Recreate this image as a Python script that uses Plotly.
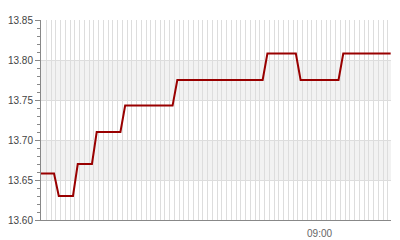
import plotly.graph_objects as go
import pandas as pd

# Data: one price per minute, 08:01 .. 09:15
times = pd.date_range("2024-01-01 08:01", periods=75, freq="min")
prices = [
    13.658, 13.658, 13.658, 13.658,                          # 08:01-08:04
    13.630, 13.630, 13.630, 13.630,                          # 08:05-08:08
    13.670, 13.670, 13.670, 13.670,                          # 08:09-08:12
    13.710, 13.710, 13.710, 13.710, 13.710, 13.710,          # 08:13-08:18
    13.743, 13.743, 13.743, 13.743, 13.743, 13.743,
    13.743, 13.743, 13.743, 13.743, 13.743,                  # 08:19-08:29
    13.775, 13.775, 13.775, 13.775, 13.775, 13.775, 13.775,
    13.775, 13.775, 13.775, 13.775, 13.775, 13.775, 13.775,
    13.775, 13.775, 13.775, 13.775, 13.775,                  # 08:30-08:48
    13.808, 13.808, 13.808, 13.808, 13.808, 13.808, 13.808,  # 08:49-08:55
    13.775, 13.775, 13.775, 13.775, 13.775, 13.775, 13.775,
    13.775, 13.775,                                          # 08:56-09:04
    13.808, 13.808, 13.808, 13.808, 13.808, 13.808, 13.808,
    13.808, 13.808, 13.808, 13.808,                          # 09:05-09:15
]
y_range = [13.60, 13.85]
x_range = ["2024-01-01 08:01:15", "2024-01-01 09:15:04"]
bands = [(13.65, 13.70), (13.75, 13.80)]

fig = go.Figure()
fig.add_trace(go.Scatter(
    x=times, y=prices, mode="lines",
    line=dict(color="#990000", width=2),
    hoverinfo="skip",
))

for y0, y1 in bands:
    fig.add_shape(type="rect", xref="paper", yref="y", x0=0, x1=1, y0=y0, y1=y1,
                  fillcolor="#f2f2f2", line_width=0, layer="below")

fig.update_layout(
    width=400, height=240,
    margin=dict(l=41, r=9, t=20, b=20, autoexpand=False),
    paper_bgcolor="white", plot_bgcolor="white",
    showlegend=False,
    font=dict(family="Liberation Sans, Arial, sans-serif", size=10, color="#555"),
)
fig.update_xaxes(
    type="date", range=x_range, automargin=False,
    tick0="2024-01-01 09:00", dtick=3600000, tickformat="%H:%M",
    showgrid=False, ticks="outside", ticklen=4, tickcolor="rgba(0,0,0,0)",
    showline=True, linecolor="#888", linewidth=1,
    tickfont=dict(color="#666", size=10),
    minor=dict(dtick=60000, tick0="2024-01-01 08:00:24", showgrid=True,
               gridcolor="#dddddd", gridwidth=1),
    zeroline=False,
)
fig.update_yaxes(
    range=y_range, dtick=0.05, tick0=13.60, tickformat=".2f", automargin=False,
    showgrid=True, gridcolor="#dddddd", gridwidth=1,
    ticks="outside", ticklen=5, tickcolor="#888",
    showline=True, linecolor="#888", linewidth=1,
    minor=dict(dtick=0.01, ticks="outside", ticklen=3, tickcolor="#888", showgrid=False),
    tickfont=dict(color="#444", size=10),
    zeroline=False,
)

fig.write_html("out.html")
